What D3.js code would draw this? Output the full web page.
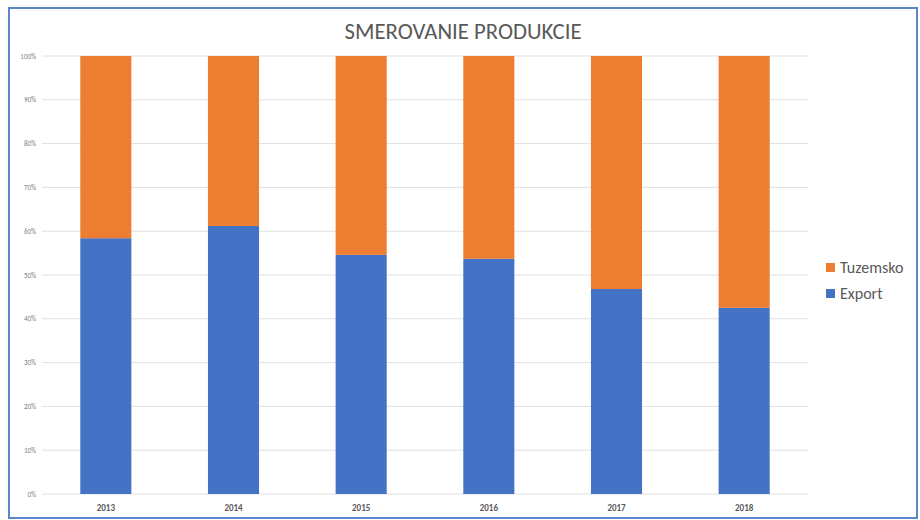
<!DOCTYPE html>
<html>
<head>
<meta charset="utf-8">
<script src="https://cdn.jsdelivr.net/npm/d3@7"></script>
<style>
  body { margin: 0; background: #fff; }
  svg { display: block; font-family: Calibri, Carlito, "Open Sans", sans-serif; }
</style>
</head>
<body>
<svg id="chart" width="920" height="520"></svg>
<script>
var years = ["2013", "2014", "2015", "2016", "2017", "2018"];
var exportShare = [58.4, 61.2, 54.6, 53.7, 46.8, 42.5];
var tuzemskoShare = [41.6, 38.8, 45.4, 46.3, 53.2, 57.5];
var yTicks = [0, 10, 20, 30, 40, 50, 60, 70, 80, 90, 100];
var seriesNames = ["Export", "Tuzemsko"];
var colors = { Export: "#4472C4", Tuzemsko: "#ED7D31" };

var svg = d3.select("#chart");

// outer frame
svg.append("rect")
    .attr("x", 9).attr("y", 8)
    .attr("width", 908).attr("height", 510)
    .attr("fill", "#fff")
    .attr("stroke", "#5b86c9")
    .attr("stroke-width", 2);

// plot area (avoid the global name "top", it is window.top)
var plot = { left: 42, right: 808, top: 56, bottom: 494 };

var x = d3.scaleBand().domain(years).range([plot.left, plot.right]).paddingInner(0.6).paddingOuter(0.3);
var y = d3.scaleLinear().domain([0, 100]).range([plot.bottom, plot.top]);

// gridlines
svg.append("g").selectAll("line")
    .data(yTicks)
    .join("line")
    .attr("x1", plot.left).attr("x2", plot.right)
    .attr("y1", function (d) { return y(d); })
    .attr("y2", function (d) { return y(d); })
    .attr("stroke", "#e0e0e0")
    .attr("stroke-width", 1);

// y labels
svg.append("g").selectAll("text")
    .data(yTicks)
    .join("text")
    .attr("x", 36)
    .attr("y", function (d) { return y(d) + 2.5; })
    .attr("text-anchor", "end")
    .attr("font-size", 7)
    .attr("fill", "#7f7f7f")
    .text(function (d) { return d + "%"; });

// stacked bars
var rows = years.map(function (yr, i) {
    return { year: yr, Export: exportShare[i], Tuzemsko: tuzemskoShare[i] };
});
var stack = d3.stack().keys(seriesNames)(rows);

svg.append("g").selectAll("g")
    .data(stack)
    .join("g")
    .attr("fill", function (s) { return colors[s.key]; })
    .selectAll("rect")
    .data(function (s) { return s; })
    .join("rect")
    .attr("x", function (d) { return x(d.data.year); })
    .attr("width", x.bandwidth())
    .attr("y", function (d) { return y(d[1]); })
    .attr("height", function (d) { return y(d[0]) - y(d[1]); });

// x labels
svg.append("g").selectAll("text")
    .data(years)
    .join("text")
    .attr("x", function (d) { return x(d) + x.bandwidth() / 2; })
    .attr("y", 511)
    .attr("text-anchor", "middle")
    .attr("font-size", 9)
    .attr("font-weight", "bold")
    .attr("fill", "#595959")
    .text(function (d) { return d; });

// title
svg.append("text")
    .attr("x", 463).attr("y", 39)
    .attr("text-anchor", "middle")
    .attr("font-size", 22)
    .attr("fill", "#595959")
    .attr("textLength", 237)
    .attr("lengthAdjust", "spacingAndGlyphs")
    .text("SMEROVANIE PRODUKCIE");

// legend
var legend = svg.append("g").selectAll("g")
    .data(["Tuzemsko", "Export"])
    .join("g")
    .attr("transform", function (d, i) { return "translate(826," + (263 + i * 26) + ")"; });
legend.append("rect")
    .attr("width", 9).attr("height", 9)
    .attr("fill", function (d) { return colors[d]; });
legend.append("text")
    .attr("x", 14).attr("y", 10)
    .attr("font-size", 16)
    .attr("fill", "#595959")
    .text(function (d) { return d; });
</script>
</body>
</html>
